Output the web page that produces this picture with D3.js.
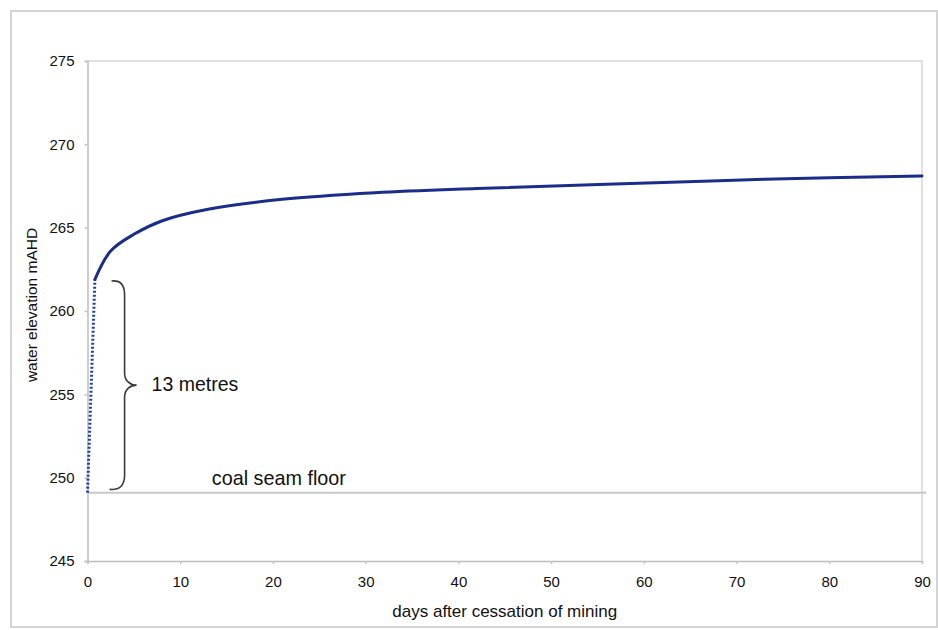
<!DOCTYPE html>
<html>
<head>
<meta charset="utf-8">
<script src="https://cdn.jsdelivr.net/npm/d3@7"></script>
<style>
  html, body { margin: 0; padding: 0; background: #fff; }
  svg { display: block; font-family: "Liberation Sans", Arial, Helvetica, sans-serif; }
</style>
</head>
<body>
<svg id="chart" width="938" height="630"></svg>
<script>
// Water level recovery after mining stops
const recoveryDays = [0.8, 2.5, 5, 8, 13, 21, 31, 42, 56, 73, 90];
const recoveryElevation = [261.9, 263.6, 264.6, 265.4, 266.1, 266.7, 267.1, 267.35, 267.6, 267.9, 268.1];

// Initial rapid fill from the seam floor (drawn dotted)
const fillDays = [0, 0.8];
const fillElevation = [249.1, 261.9];

const coalSeamFloor = 249.1;

const xTicks = [0, 10, 20, 30, 40, 50, 60, 70, 80, 90];
const yTicks = [245, 250, 255, 260, 265, 270, 275];

// Brace spanning the rise, with its label
const braceDay = 4;
const braceTop = 261.8;
const braceBottom = 249.3;
const braceLabel = "13 metres";

const svg = d3.select("#chart");
const plot = { left: 87.5, right: 922, top: 61, bottom: 561 };

// Outer frame
svg.append("rect")
  .attr("x", 11).attr("y", 11)
  .attr("width", 926).attr("height", 616)
  .attr("fill", "#fff")
  .attr("stroke", "#d4d4d4").attr("stroke-width", 2);

const x = d3.scaleLinear().domain([0, 90]).range([plot.left, plot.right]);
const y = d3.scaleLinear().domain([245, 275]).range([plot.bottom, plot.top]);

// Plot area border (top and right)
svg.append("path")
  .attr("d", `M${plot.left},${plot.top}H${plot.right}V${plot.bottom}`)
  .attr("fill", "none")
  .attr("stroke", "#d8d8d8").attr("stroke-width", 1.5);

// Axes
const xAxis = svg.append("g")
  .attr("transform", `translate(0,${plot.bottom})`)
  .call(d3.axisBottom(x).tickValues(xTicks).tickSize(3).tickPadding(12).tickFormat(d3.format("d")));
const yAxis = svg.append("g")
  .attr("transform", `translate(${plot.left},0)`)
  .call(d3.axisLeft(y).tickValues(yTicks).tickSize(3).tickPadding(10).tickFormat(d3.format("d")));

[xAxis, yAxis].forEach(g => {
  g.select(".domain").attr("stroke", "#bdbdbd").attr("stroke-width", 1.5);
  g.selectAll(".tick line").attr("stroke", "#c4c4c4").attr("stroke-width", 1.5);
  g.selectAll(".tick text")
    .attr("fill", "#111")
    .style("font-family", "'Liberation Sans', Arial, sans-serif")
    .style("font-size", "15px");
});

// Axis titles
svg.append("text")
  .attr("x", (plot.left + plot.right) / 2)
  .attr("y", 617)
  .attr("text-anchor", "middle")
  .attr("fill", "#111")
  .style("font-size", "17px")
  .text("days after cessation of mining");

svg.append("text")
  .attr("transform", `translate(37,${(plot.top + plot.bottom) / 2 - 6}) rotate(-90)`)
  .attr("text-anchor", "middle")
  .attr("fill", "#111")
  .style("font-size", "15.5px")
  .text("water elevation mAHD");

// Coal seam floor reference line
svg.append("line")
  .attr("x1", x(0)).attr("x2", x(90) + 4)
  .attr("y1", y(coalSeamFloor)).attr("y2", y(coalSeamFloor))
  .attr("stroke", "#c8c8c8").attr("stroke-width", 2);

svg.append("text")
  .attr("x", x(13.4))
  .attr("y", y(coalSeamFloor) - 8)
  .attr("fill", "#111")
  .style("font-size", "19.8px")
  .text("coal seam floor");

// Dotted initial rise
const line = d3.line().x(d => x(d[0])).y(d => y(d[1]));
svg.append("path")
  .datum(d3.zip(fillDays, fillElevation))
  .attr("d", line)
  .attr("fill", "none")
  .attr("stroke", "#2140a8")
  .attr("stroke-width", 3)
  .attr("stroke-dasharray", "2,2");

// Recovery curve (smoothed)
svg.append("path")
  .datum(d3.zip(recoveryDays, recoveryElevation))
  .attr("d", line.curve(d3.curveCatmullRom.alpha(0.5)))
  .attr("fill", "none")
  .attr("stroke", "#1b2d88")
  .attr("stroke-width", 3)
  .attr("stroke-linecap", "round")
  .attr("stroke-linejoin", "round");

// Brace
const bx = x(braceDay), bt = y(braceTop), bb = y(braceBottom);
const bm = (bt + bb) / 2;
const brace = d3.path();
brace.moveTo(bx - 13, bt);
brace.bezierCurveTo(bx - 4, bt - 1, bx, bt + 4, bx, bt + 14);
brace.lineTo(bx, bm - 12);
brace.bezierCurveTo(bx, bm - 4, bx + 6, bm, bx + 12, bm);
brace.bezierCurveTo(bx + 6, bm, bx, bm + 4, bx, bm + 12);
brace.lineTo(bx, bb - 14);
brace.bezierCurveTo(bx, bb - 4, bx - 5, bb + 1, bx - 15, bb);
svg.append("path")
  .attr("d", brace.toString())
  .attr("fill", "none")
  .attr("stroke", "#3a3a3a")
  .attr("stroke-width", 1.6);

svg.append("text")
  .attr("x", bx + 27)
  .attr("y", bm + 6)
  .attr("fill", "#111")
  .style("font-size", "19.5px")
  .text(braceLabel);
</script>
</body>
</html>
